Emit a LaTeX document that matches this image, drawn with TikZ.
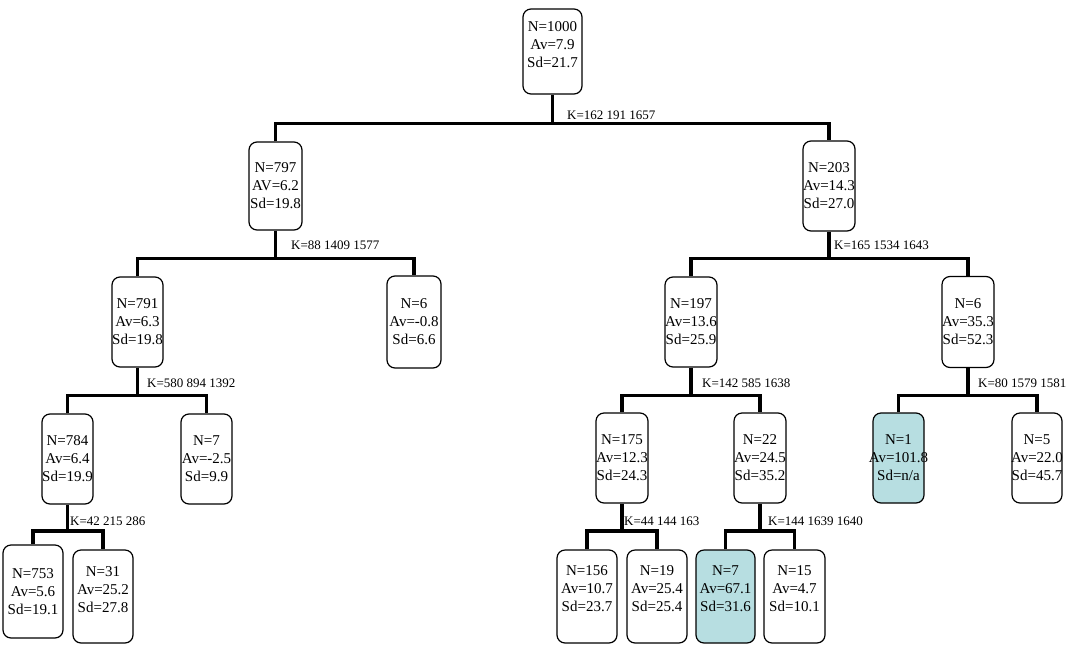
\documentclass[tikz,border=0pt]{standalone}
\usepackage{fontspec}
\setmainfont{Liberation Serif}
\definecolor{leafteal}{RGB}{183,222,225}
\begin{document}
\begin{tikzpicture}[x=1pt,y=-1pt,
  box/.style={draw=black,line width=1.2pt,rounded corners=8pt,fill=white,inner sep=0pt,minimum width=52pt,minimum height=90pt},
  hot/.style={fill=leafteal},
  txt/.style={font=\fontsize{15}{18}\selectfont,align=center,inner sep=0pt},
  klabel/.style={font=\fontsize{13}{15}\selectfont,anchor=west,inner sep=0pt},
  bar/.style={line width=3.8pt,line join=miter}]
\useasboundingbox (0,0) rectangle (1081,667);
% boxes
\node[box,minimum width=59pt,minimum height=85pt] (n0) at (552.5,51.5) {};
\node[box,minimum width=53pt,minimum height=88pt] (n1) at (275.5,186) {};
\node[box] (n2) at (829,186) {};
\node[box,minimum width=51pt] (n3) at (137.5,322) {};
\node[box,minimum width=54pt,minimum height=92pt] (n4) at (414,322) {};
\node[box] (n5) at (691,322) {};
\node[box,minimum height=91pt] (n6) at (968,322) {};
\node[box,minimum width=51pt] (n7) at (67.5,459) {};
\node[box,minimum width=51pt] (n8) at (206.5,459) {};
\node[box] (n9) at (622,458) {};
\node[box] (n10) at (760,458) {};
\node[box,hot,minimum width=51pt] (n11) at (898.5,458) {};
\node[box,minimum width=50pt] (n12) at (1037,458) {};
\node[box,minimum width=60pt,minimum height=93pt] (n13) at (33,591.5) {};
\node[box,minimum width=60pt,minimum height=93pt] (n14) at (103,596.5) {};
\node[box,minimum width=60pt,minimum height=93pt] (n15) at (587,596.5) {};
\node[box,minimum width=60pt,minimum height=93pt] (n16) at (657,596.5) {};
\node[box,hot,minimum width=59pt,minimum height=93pt] (n17) at (725.5,596.5) {};
\node[box,minimum width=61pt,minimum height=93pt] (n18) at (794.5,596.5) {};
% texts
\node[txt] (t0) at ([yshift=7pt]n0.center) {N=1000\\Av=7.9\\Sd=21.7};
\node[txt] (t1) at (n1.center) {N=797\\AV=6.2\\Sd=19.8};
\node[txt] (t2) at (n2.center) {N=203\\Av=14.3\\Sd=27.0};
\node[txt] (t3) at (n3.center) {N=791\\Av=6.3\\Sd=19.8};
\node[txt] (t4) at (n4.center) {N=6\\Av=-0.8\\Sd=6.6};
\node[txt] (t5) at (n5.center) {N=197\\Av=13.6\\Sd=25.9};
\node[txt] (t6) at (n6.center) {N=6\\Av=35.3\\Sd=52.3};
\node[txt] (t7) at (n7.center) {N=784\\Av=6.4\\Sd=19.9};
\node[txt] (t8) at (n8.center) {N=7\\Av=-2.5\\Sd=9.9};
\node[txt] (t9) at (n9.center) {N=175\\Av=12.3\\Sd=24.3};
\node[txt] (t10) at (n10.center) {N=22\\Av=24.5\\Sd=35.2};
\node[txt] (t11) at (n11.center) {N=1\\Av=101.8\\Sd=n/a};
\node[txt] (t12) at (n12.center) {N=5\\Av=22.0\\Sd=45.7};
\node[txt] (t13) at (n13.center) {N=753\\Av=5.6\\Sd=19.1};
\node[txt] (t14) at ([yshift=7pt]n14.center) {N=31\\Av=25.2\\Sd=27.8};
\node[txt] (t15) at ([yshift=8pt]n15.center) {N=156\\Av=10.7\\Sd=23.7};
\node[txt] (t16) at ([yshift=8pt]n16.center) {N=19\\Av=25.4\\Sd=25.4};
\node[txt] (t17) at ([yshift=8pt]n17.center) {N=7\\Av=67.1\\Sd=31.6};
\node[txt] (t18) at ([yshift=8pt]n18.center) {N=15\\Av=4.7\\Sd=10.1};
% split points
\coordinate (b0) at (552.5,123.5);
\coordinate (b1) at (275.5,258.5);
\coordinate (b2) at (829,258.5);
\coordinate (b3) at (137.5,395.5);
\coordinate (b5) at (691,395.5);
\coordinate (b6) at (968,395.5);
\coordinate (b7) at (67.5,531);
\coordinate (b9) at (622,531);
\coordinate (b10) at (760,531);
% connectors
\draw[bar] (n0.south) -- (b0);
\draw[bar] (n1.north) |- (b0) -| (n2.north);
\draw[bar] (n1.south) -- (b1);
\draw[bar] (n3.north) |- (b1) -| (n4.north);
\draw[bar] (n2.south) -- (b2);
\draw[bar] (n5.north) |- (b2) -| (n6.north);
\draw[bar] (n3.south) -- (b3);
\draw[bar] (n7.north) |- (b3) -| (n8.north);
\draw[bar] (n5.south) -- (b5);
\draw[bar] (n9.north) |- (b5) -| (n10.north);
\draw[bar] (n6.south) -- (b6);
\draw[bar] (n11.north) |- (b6) -| (n12.north);
\draw[bar] (n7.south) -- (b7);
\draw[bar] (n13.north) |- (b7) -| (n14.north);
\draw[bar] (n9.south) -- (b9);
\draw[bar] (n15.north) |- (b9) -| (n16.north);
\draw[bar] (n10.south) -- (b10);
\draw[bar] (n17.north) |- (b10) -| (n18.north);
% split labels
\node[klabel] (k0) at (567,115) {K=162 191 1657};
\node[klabel] (k1) at (291,245) {K=88 1409 1577};
\node[klabel] (k2) at (834,245) {K=165 1534 1643};
\node[klabel] (k3) at (147,383) {K=580 894 1392};
\node[klabel] (k5) at (702,383) {K=142 585 1638};
\node[klabel] (k6) at (978,383) {K=80 1579 1581};
\node[klabel] (k7) at (70,521.5) {K=42 215 286};
\node[klabel] (k9) at (624,521.5) {K=44 144 163};
\node[klabel] (k10) at (768,521.5) {K=144 1639 1640};
\end{tikzpicture}
\end{document}
